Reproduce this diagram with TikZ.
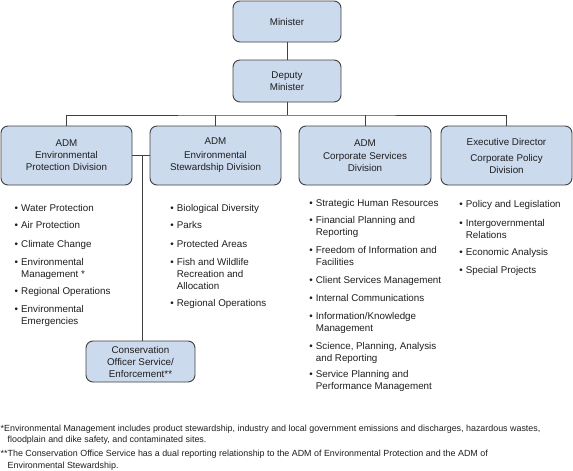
\documentclass[tikz,border=0pt]{standalone}
\usepackage{fontspec}
\setmainfont{Liberation Sans}
\usepackage{tikz}
\definecolor{boxblue}{RGB}{204,218,238}
\definecolor{linegray}{RGB}{64,64,64}
\definecolor{inkgray}{RGB}{30,30,30}
\newcommand{\itembul}{\makebox[6.5pt][l]{\textbullet}}
\newcommand{\itemgap}{\hspace*{6.5pt}}

\begin{document}
\begin{tikzpicture}[x=1pt,y=-1pt,
  font=\fontsize{9.8}{12}\selectfont, text=inkgray,
  unit/.style={draw=linegray,fill=boxblue,line width=0.9pt,rounded corners=7pt,
    align=center,inner sep=0pt},
  duty/.style={anchor=base west,align=left,inner sep=0pt},
  note/.style={anchor=base west,align=left,inner sep=0pt,
    font=\fontsize{8.9}{11.5}\selectfont},
  link/.style={draw=linegray,line width=0.9pt}]
  \useasboundingbox (0,0) rectangle (573,471);

  %% Minister and deputy
  \node[unit,minimum width=108,minimum height=41] (min) at (287,21.5) {Minister};
  \node[unit,minimum width=108,minimum height=42] (dep) at (287,81) {Deputy\\Minister};

  %% Divisions
  \node[unit,minimum width=131,minimum height=59] (adm1) at (66.5,155.5)
    {ADM\\Environmental\\Protection Division};
  \node[unit,minimum width=131,minimum height=59] (adm2) at (215.5,155.5)
    {ADM\\[2pt]Environmental\\Stewardship Division};
  \node[unit,minimum width=132,minimum height=59] (adm3) at (365,155.5)
    {ADM\\[1pt]Corporate Services\\Division};
  \node[unit,minimum width=131,minimum height=59] (adm4) at (506.5,155.5)
    {Executive Director\\[4pt]Corporate Policy\\Division};

  \node[unit,minimum width=109,minimum height=41] (cons) at (140.5,361.5)
    {Conservation\\Officer Service/\\Enforcement**};

  %% Reporting lines
  \coordinate (bus) at (287,115);
  \coordinate (split) at (142.5,155.5);
  \draw[link] (min) -- (dep);
  \draw[link] (dep) -- (bus);
  \draw[link] (adm1.north) |- (bus) -| (adm4.north);
  \draw[link] (adm2.north) -- (adm2.north |- bus);
  \draw[link] (adm3.north) -- (adm3.north |- bus);
  \draw[link] (adm1.east) -- (adm2.west);
  \draw[link] (split) -- (split |- cons.north);

  %% Environmental Protection (y = baseline of last line)
  \node[duty] (wp) at (14.5,211) {\itembul Water Protection};
  \node[duty] (ap) at (14.5,228.5) {\itembul Air Protection};
  \node[duty] (cc) at (14.5,247) {\itembul Climate Change};
  \node[duty] (em) at (14.5,277) {\itembul Environmental\\\itemgap Management *};
  \node[duty] (ro1) at (14.5,294) {\itembul Regional Operations};
  \node[duty] (ee) at (14.5,324) {\itembul Environmental\\\itemgap Emergencies};

  %% Environmental Stewardship
  \node[duty] (bd) at (170.2,211) {\itembul Biological Diversity};
  \node[duty] (pk) at (170.2,228.5) {\itembul Parks};
  \node[duty] (pa) at (170.2,247) {\itembul Protected Areas};
  \node[duty] (fw) at (170.2,289) {\itembul Fish and Wildlife\\\itemgap Recreation and\\\itemgap Allocation};
  \node[duty] (ro2) at (170.2,306) {\itembul Regional Operations};

  %% Corporate Services
  \node[duty] (shr) at (309.2,206) {\itembul Strategic Human Resources};
  \node[duty] (fpr) at (309.2,235.5) {\itembul Financial Planning and\\\itemgap Reporting};
  \node[duty] (foi) at (309.2,265.5) {\itembul Freedom of Information and\\\itemgap Facilities};
  \node[duty] (csm) at (309.2,283) {\itembul Client Services Management};
  \node[duty] (ic) at (309.2,301) {\itembul Internal Communications};
  \node[duty] (ikm) at (309.2,331) {\itembul Information/Knowledge\\\itemgap Management};
  \node[duty] (spa) at (309.2,361.5) {\itembul Science, Planning, Analysis\\\itemgap and Reporting};
  \node[duty] (spp) at (309.2,389.5) {\itembul Service Planning and\\[0.5pt]\itemgap Performance Management};

  %% Corporate Policy
  \node[duty] (pl) at (459.2,207.5) {\itembul Policy and Legislation};
  \node[duty] (ir) at (459.2,238) {\itembul Intergovernmental\\\itemgap Relations};
  \node[duty] (ea) at (459.2,255) {\itembul Economic Analysis};
  \node[duty] (sp) at (459.2,273.5) {\itembul Special Projects};

  %% Footnotes
  \node[note] (fn1) at (0.5,442.5) {*Environmental Management includes product stewardship, industry and local government emissions and discharges, hazardous wastes,\\\hspace*{7pt}floodplain and dike safety, and contaminated sites.};
  \node[note] (fn2) at (0.5,468) {**The Conservation Office Service has a dual reporting relationship to the ADM of Environmental Protection and the ADM of\\\hspace*{7pt}Environmental Stewardship.};

\end{tikzpicture}
\end{document}
